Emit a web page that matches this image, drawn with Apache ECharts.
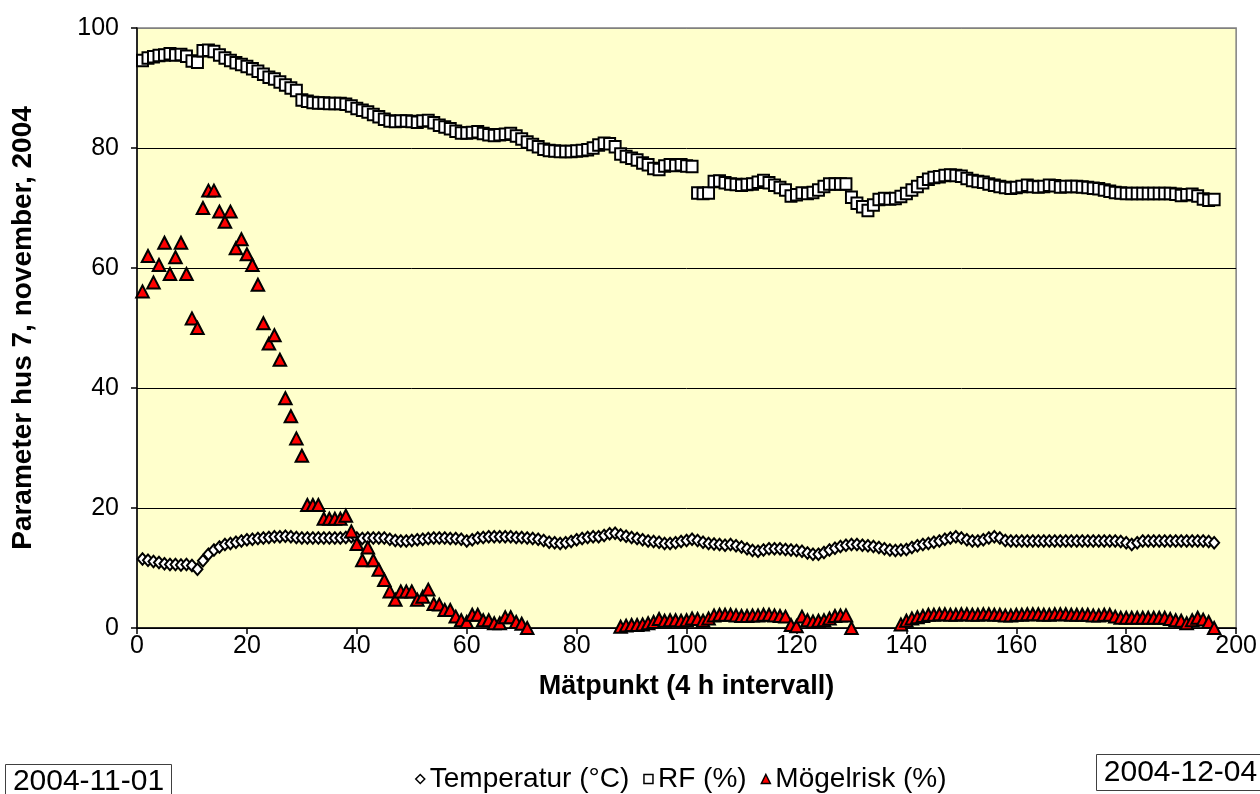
<!DOCTYPE html>
<html>
<head>
<meta charset="utf-8">
<script src="https://cdn.jsdelivr.net/npm/echarts@6/dist/echarts.min.js"></script>
<style>
  html, body { margin: 0; padding: 0; background: #ffffff; }
  #chart { width: 1260px; height: 794px; }
</style>
</head>
<body>
<div id="chart"></div>
<script>
// Measurement points 1..196, one every 4 hours
const pointCount = 196;

const temperature = [
  11.5, 11.3, 11.1, 10.9, 10.7, 10.6, 10.6, 10.5, 10.6, 10.4,
  9.8, 11.2, 12.3, 13.0, 13.5, 13.9, 14.1, 14.3, 14.5, 14.7,
  14.8, 14.9, 15.0, 15.1, 15.2, 15.2, 15.3, 15.2, 15.1, 15.0,
  15.0, 15.0, 15.0, 15.0, 15.0, 15.0, 15.0, 15.1, 15.2, 15.0,
  14.9, 15.0, 15.0, 15.0, 15.0, 14.8, 14.6, 14.5, 14.5, 14.6,
  14.7, 14.8, 14.9, 15.0, 15.0, 15.0, 14.9, 14.9, 14.8, 14.5,
  14.7, 15.0, 15.1, 15.2, 15.2, 15.2, 15.2, 15.2, 15.1, 15.1,
  15.0, 14.9, 14.8, 14.6, 14.3, 14.2, 14.1, 14.2, 14.4, 14.7,
  14.9, 15.1, 15.2, 15.2, 15.4, 15.7, 15.8, 15.5, 15.3, 15.1,
  14.9, 14.7, 14.5, 14.4, 14.3, 14.1, 14.1, 14.2, 14.4, 14.6,
  14.8, 14.6, 14.3, 14.1, 14.0, 13.9, 13.8, 13.9, 13.7, 13.5,
  13.2, 12.9, 12.8, 13.0, 13.2, 13.2, 13.2, 13.1, 13.0, 12.9,
  12.8, 12.5, 12.3, 12.3, 12.6, 13.0, 13.3, 13.6, 13.8, 13.9,
  13.9, 13.8, 13.7, 13.6, 13.4, 13.2, 13.0, 12.9, 13.0, 13.1,
  13.4, 13.7, 13.9, 14.1, 14.3, 14.5, 14.8, 15.0, 15.2, 15.0,
  14.7, 14.5, 14.5, 14.7, 15.0, 15.2, 15.0, 14.6, 14.5, 14.5,
  14.5, 14.5, 14.5, 14.5, 14.5, 14.5, 14.5, 14.5, 14.5, 14.5,
  14.5, 14.5, 14.5, 14.5, 14.5, 14.5, 14.5, 14.5, 14.4, 14.2,
  13.9, 14.2, 14.5, 14.5, 14.5, 14.5, 14.5, 14.5, 14.5, 14.5,
  14.5, 14.5, 14.5, 14.5, 14.4, 14.2
];

const relativeHumidity = [
  94.6, 95.0, 95.2, 95.4, 95.5, 95.7, 95.5, 95.6, 95.3, 94.5,
  94.3, 96.2, 96.3, 96.1, 95.5, 95.0, 94.6, 94.2, 93.9, 93.6,
  93.2, 92.8, 92.3, 91.8, 91.5, 91.0, 90.5, 90.0, 89.6, 88.0,
  87.8, 87.6, 87.5, 87.5, 87.4, 87.4, 87.4, 87.3, 87.0, 86.6,
  86.3, 86.0, 85.6, 85.2, 84.8, 84.5, 84.4, 84.5, 84.5, 84.4,
  84.3, 84.5, 84.6, 84.2, 83.8, 83.5, 83.2, 82.8, 82.5, 82.5,
  82.6, 82.7, 82.4, 82.2, 82.1, 82.2, 82.3, 82.4, 82.0, 81.5,
  81.0, 80.6, 80.2, 79.8, 79.6, 79.5, 79.4, 79.4, 79.4, 79.5,
  79.6, 79.7, 80.0, 80.5, 80.8, 80.7, 80.2, 79.0, 78.6, 78.3,
  78.0, 77.5, 77.2, 76.6, 76.4, 77.0, 77.2, 77.1, 77.2, 77.0,
  76.9, 72.5, 72.4, 72.5, 74.4, 74.5, 74.2, 74.0, 73.9, 73.8,
  73.9, 74.0, 74.3, 74.6, 74.2, 73.8, 73.4, 73.0, 72.0, 72.2,
  72.5, 72.4, 72.6, 73.0, 73.6, 74.0, 74.0, 74.0, 74.0, 71.8,
  70.8, 70.2, 69.6, 70.5, 71.4, 71.6, 71.5, 71.6, 71.9, 72.4,
  73.0, 73.6, 74.2, 74.8, 75.1, 75.2, 75.4, 75.5, 75.4, 75.3,
  74.9, 74.6, 74.4, 74.3, 74.0, 73.8, 73.6, 73.4, 73.3, 73.4,
  73.6, 73.8, 73.6, 73.5, 73.6, 73.8, 73.7, 73.5, 73.6, 73.6,
  73.6, 73.5, 73.4, 73.3, 73.2, 73.0, 72.8, 72.6, 72.5, 72.4,
  72.4, 72.4, 72.4, 72.4, 72.4, 72.4, 72.4, 72.4, 72.3, 72.1,
  72.2, 72.3, 72.0, 71.5, 71.3, 71.4
];

// Mould risk; null where no value was computed
const mouldRisk = [
  56.1, 62.0, 57.6, 60.5, 64.2, 59.0, 61.8, 64.2, 59.0, 51.6,
  50.0, 70.0, 72.9, 72.9, 69.4, 67.7, 69.4, 63.3, 64.8, 62.3,
  60.5, 57.2, 50.8, 47.4, 48.8, 44.7, 38.3, 35.3, 31.6, 28.7,
  20.5, 20.5, 20.5, 18.2, 18.2, 18.2, 18.2, 18.7, 16.1, 14.0,
  11.3, 13.4, 11.3, 9.7, 8.0, 6.1, 4.7, 6.1, 6.1, 6.1,
  4.7, 5.2, 6.4, 4.0, 3.9, 3.0, 3.0, 1.9, 1.3, 1.0,
  2.2, 2.2, 1.3, 1.3, 0.8, 0.8, 1.8, 1.8, 1.0, 0.7,
  0.0, null, null, null, null, null, null, null, null, null,
  null, null, null, null, null, null, null, 0.2, 0.4, 0.5,
  0.5, 0.6, 0.8, 1.0, 1.5, 1.2, 1.3, 1.3, 1.2, 1.3,
  1.6, 1.5, 1.2, 1.6, 2.1, 2.2, 2.2, 2.2, 2.1, 2.0,
  2.0, 2.1, 2.1, 2.2, 2.2, 2.1, 2.0, 1.9, 0.5, 0.3,
  1.9, 1.3, 1.1, 1.2, 1.3, 1.6, 2.0, 2.1, 2.1, 0.0,
  null, null, null, null, null, null, null, null, 0.6, 1.2,
  1.6, 1.8, 2.0, 2.2, 2.2, 2.3, 2.3, 2.2, 2.2, 2.3,
  2.3, 2.2, 2.2, 2.3, 2.3, 2.2, 2.2, 2.1, 2.1, 2.2,
  2.2, 2.3, 2.3, 2.3, 2.2, 2.2, 2.3, 2.3, 2.3, 2.2,
  2.2, 2.2, 2.2, 2.1, 2.1, 2.2, 2.2, 1.9, 1.7, 1.7,
  1.7, 1.7, 1.7, 1.7, 1.7, 1.7, 1.7, 1.5, 1.3, 1.2,
  0.8, 1.3, 1.7, 1.4, 1.0, 0.0
];

const xTicks = { min: 0, max: 200, interval: 20 };
const yTicks = { min: 0, max: 100, interval: 20 };
const seriesNames = ['Temperatur (°C)', 'RF (%)', 'Mögelrisk (%)'];
const dateStart = '2004-11-01';
const dateEnd = '2004-12-04';
const xTitle = 'Mätpunkt (4 h intervall)';
const yTitle = 'Parameter hus 7, november, 2004';

const FONT = '"Liberation Sans", Arial, sans-serif';

function toPoints(values) {
  const out = [];
  values.forEach((v, k) => {
    if (v !== null && k < pointCount) out.push([k + 1, v]);
  });
  return out;
}

const chart = echarts.init(document.getElementById('chart'), null, { renderer: 'canvas' });

chart.setOption({
  backgroundColor: '#ffffff',
  animation: false,
  textStyle: { fontFamily: FONT, color: '#000' },
  grid: {
    left: 137, right: 23, top: 28, bottom: 166,
    show: true,
    backgroundColor: '#FFFFCC',
    borderColor: '#808080',
    borderWidth: 1.5
  },
  legend: {
    left: 410,
    top: 760,
    itemWidth: 9,
    itemHeight: 9,
    itemGap: 14,
    textStyle: { fontFamily: FONT, fontSize: 28, color: '#000' },
    data: [
      { name: seriesNames[0], icon: 'diamond', itemStyle: { color: '#fff', borderColor: '#000', borderWidth: 1.5 } },
      { name: seriesNames[1], icon: 'rect', itemStyle: { color: '#fff', borderColor: '#000', borderWidth: 1.5 } },
      { name: seriesNames[2], icon: 'triangle', itemStyle: { color: '#FF0000', borderColor: '#000', borderWidth: 1.5 } }
    ]
  },
  xAxis: {
    type: 'value',
    min: xTicks.min, max: xTicks.max, interval: xTicks.interval,
    name: xTitle,
    nameLocation: 'middle',
    nameGap: 45,
    nameTextStyle: { fontFamily: FONT, fontSize: 27, fontWeight: 'bold', color: '#000' },
    axisLine: { show: true, lineStyle: { color: '#000', width: 1.5 } },
    axisTick: { show: true, length: 6, lineStyle: { color: '#000', width: 1.5 } },
    axisLabel: { margin: 6, fontSize: 25, color: '#000', fontFamily: FONT },
    splitLine: { show: false }
  },
  yAxis: {
    type: 'value',
    min: yTicks.min, max: yTicks.max, interval: yTicks.interval,
    name: yTitle,
    nameLocation: 'middle',
    nameRotate: 90,
    nameGap: 100,
    nameTextStyle: { fontFamily: FONT, fontSize: 28, fontWeight: 'bold', color: '#000' },
    axisLine: { show: true, lineStyle: { color: '#000', width: 1.5 } },
    axisTick: { show: true, length: 6, lineStyle: { color: '#000', width: 1.5 } },
    axisLabel: { margin: 18, fontSize: 25, color: '#000', fontFamily: FONT },
    splitLine: { show: true, lineStyle: { color: ['#000', '#000', '#000', '#000', '#000', '#808080'], width: 1 } }
  },
  series: [
    {
      name: seriesNames[0],
      type: 'scatter',
      symbol: 'diamond',
      symbolSize: [10, 11.5],
      itemStyle: { color: '#ffffff', borderColor: '#000', borderWidth: 2, opacity: 1 },
      emphasis: { disabled: true },
      data: toPoints(temperature)
    },
    {
      name: seriesNames[1],
      type: 'scatter',
      symbol: 'rect',
      symbolSize: [11, 11.5],
      itemStyle: { color: '#ffffff', borderColor: '#000', borderWidth: 2, opacity: 1 },
      emphasis: { disabled: true },
      data: toPoints(relativeHumidity)
    },
    {
      name: seriesNames[2],
      type: 'scatter',
      symbol: 'triangle',
      symbolSize: [12.5, 12],
      itemStyle: { color: '#FF0000', borderColor: '#000', borderWidth: 2, opacity: 1 },
      emphasis: { disabled: true },
      data: toPoints(mouldRisk)
    }
  ],
  graphic: [
    {
      type: 'group', left: 5, top: 764,
      children: [
        { type: 'rect', shape: { x: 0, y: 0, width: 166, height: 34 },
          style: { fill: '#fff', stroke: '#404040', lineWidth: 1 } },
        { type: 'text', x: 83, y: 17,
          style: { text: dateStart, font: '30px ' + FONT, fill: '#000', align: 'center', verticalAlign: 'middle' } }
      ]
    },
    {
      type: 'group', left: 1096, top: 754,
      children: [
        { type: 'rect', shape: { x: 0, y: 0, width: 170, height: 36 },
          style: { fill: '#fff', stroke: '#404040', lineWidth: 1 } },
        { type: 'text', x: 84, y: 18,
          style: { text: dateEnd, font: '30px ' + FONT, fill: '#000', align: 'center', verticalAlign: 'middle' } }
      ]
    }
  ]
});
</script>
</body>
</html>
